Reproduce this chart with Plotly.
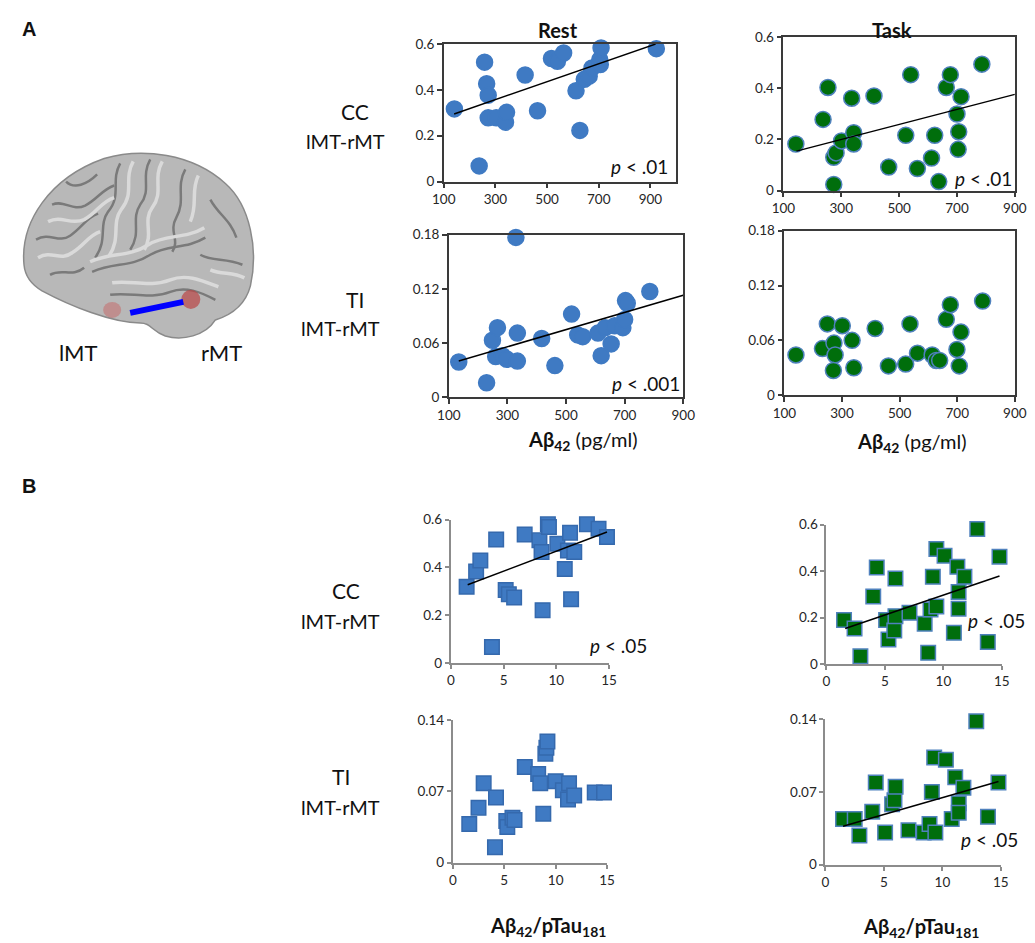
import plotly.graph_objects as go

W, H = 1035, 943

# ---------------- data ----------------
# Panel A: x = Abeta42 (pg/ml)
REST_CC_A_X = [141, 258, 266, 272, 272, 303, 339, 343, 237, 415, 463, 517, 540, 564,
               612, 627, 644, 663, 674, 704, 709, 706, 923]
REST_CC_A_Y = [0.317, 0.521, 0.427, 0.377, 0.278, 0.278, 0.259, 0.302, 0.068, 0.465,
               0.309, 0.537, 0.525, 0.561, 0.396, 0.223, 0.446, 0.460, 0.496, 0.532,
               0.583, 0.511, 0.580]
REST_CC_A_FIT_X = [140, 920]
REST_CC_A_FIT_Y = [0.295, 0.600]

TASK_CC_A_X = [143, 237, 254, 274, 282, 274, 301, 336, 343, 343, 413, 464, 523, 540,
               563, 612, 623, 637, 663, 677, 700, 714, 706, 704, 786]
TASK_CC_A_Y = [0.182, 0.278, 0.403, 0.130, 0.147, 0.024, 0.194, 0.361, 0.226, 0.182,
               0.370, 0.092, 0.216, 0.453, 0.086, 0.127, 0.216, 0.035, 0.403, 0.453,
               0.299, 0.367, 0.230, 0.161, 0.494]
TASK_CC_A_FIT_X = [145, 900]
TASK_CC_A_FIT_Y = [0.154, 0.376]

REST_TI_A_X = [134, 229, 249, 266, 260, 283, 298, 329, 334, 334, 417, 462, 519, 540,
               557, 609, 620, 634, 654, 666, 694, 700, 703, 709, 786]
REST_TI_A_Y = [0.039, 0.016, 0.063, 0.077, 0.045, 0.046, 0.042, 0.177, 0.071, 0.040,
               0.065, 0.035, 0.092, 0.069, 0.067, 0.071, 0.046, 0.077, 0.059, 0.079,
               0.077, 0.086, 0.107, 0.104, 0.117]
REST_TI_A_FIT_X = [134, 900]
REST_TI_A_FIT_Y = [0.040, 0.113]

TASK_TI_A_X = [140, 232, 249, 272, 276, 270, 301, 335, 341, 415, 461, 521, 536, 562,
               613, 627, 639, 662, 676, 699, 713, 707, 788]
TASK_TI_A_Y = [0.044, 0.051, 0.078, 0.057, 0.044, 0.027, 0.076, 0.060, 0.030, 0.073,
               0.032, 0.034, 0.078, 0.046, 0.044, 0.038, 0.038, 0.083, 0.099, 0.050,
               0.069, 0.032, 0.103]

# Panel B: x = Abeta42 / pTau181
REST_CC_B_X = [1.5, 2.4, 2.8, 3.9, 4.3, 5.2, 5.5, 6.0, 7.0, 8.4, 8.6, 8.7, 9.2, 9.3,
               10.1, 10.8, 11.1, 11.3, 11.4, 11.7, 12.9, 14.0, 14.8]
REST_CC_B_Y = [0.319, 0.383, 0.429, 0.067, 0.517, 0.305, 0.288, 0.274, 0.537, 0.513,
               0.464, 0.221, 0.580, 0.569, 0.499, 0.393, 0.471, 0.545, 0.267, 0.464,
               0.580, 0.562, 0.527]
REST_CC_B_FIT_X = [1.6, 14.8]
REST_CC_B_FIT_Y = [0.327, 0.548]

TASK_CC_B_X = [1.5, 2.4, 2.9, 4.0, 4.3, 5.1, 5.3, 5.8, 5.9, 5.9, 7.1, 8.4, 8.7, 8.9,
               9.1, 9.4, 9.4, 10.1, 10.9, 11.2, 11.3, 11.3, 11.8, 12.9, 13.8, 14.8]
TASK_CC_B_Y = [0.189, 0.153, 0.033, 0.290, 0.415, 0.189, 0.105, 0.144, 0.368, 0.206,
               0.221, 0.173, 0.048, 0.235, 0.375, 0.495, 0.247, 0.466, 0.134, 0.418,
               0.310, 0.238, 0.375, 0.581, 0.095, 0.462]
TASK_CC_B_FIT_X = [1.6, 14.8]
TASK_CC_B_FIT_Y = [0.153, 0.379]

REST_TI_B_X = [1.6, 2.5, 3.0, 4.1, 4.2, 5.2, 5.3, 5.8, 6.0, 7.0, 8.3, 8.5, 8.8, 9.0,
               9.1, 9.2, 10.0, 10.7, 11.2, 11.3, 11.8, 13.8, 14.7]
REST_TI_B_Y = [0.038, 0.054, 0.078, 0.015, 0.064, 0.041, 0.035, 0.044, 0.042, 0.094,
               0.087, 0.078, 0.048, 0.107, 0.113, 0.119, 0.080, 0.071, 0.062, 0.078,
               0.066, 0.069, 0.069]

TASK_TI_B_X = [1.5, 2.5, 2.9, 4.0, 4.3, 5.1, 5.7, 5.9, 6.0, 7.1, 8.4, 8.9, 9.1, 9.3,
               9.4, 10.3, 10.8, 11.1, 11.4, 11.4, 11.8, 12.9, 13.9, 14.8]
TASK_TI_B_Y = [0.044, 0.044, 0.028, 0.051, 0.079, 0.031, 0.058, 0.062, 0.075, 0.033,
               0.031, 0.039, 0.070, 0.103, 0.031, 0.101, 0.044, 0.084, 0.059, 0.050,
               0.074, 0.138, 0.046, 0.079]
TASK_TI_B_FIT_X = [1.5, 14.8]
TASK_TI_B_FIT_Y = [0.037, 0.080]

# tick values / labels
A_X_TICKS = [100, 300, 500, 700, 900]
A_CC_Y_TICKS = [0, 0.2, 0.4, 0.6]
A_TI_Y_TICKS = [0, 0.06, 0.12, 0.18]
B_X_TICKS = [0, 5, 10, 15]
B_CC_Y_TICKS = [0, 0.2, 0.4, 0.6]
B_TI_Y_TICKS = [0, 0.07, 0.14]
A_TI_Y_LABELS = ["0", "0.06", "0.12", "0.18"]
B_TI_Y_LABELS = ["0", "0.07", "0.14"]

# ---------------- styling ----------------
FONT = "Lato"
BLUE = "#3F7AC3"
BLUE_EDGE = "#3569AD"
GREEN = "#006E0C"
GREEN_EDGE = "#4F81BD"

# the photographed page shows the figure slightly offset and scaled;
# these convert a target position in the picture to paper coordinates
OFF_X, SCALE_X = 20.0, 0.975
OFF_Y, SCALE_Y = 17.0, 0.980


def px(x):
    return min(max(((x - OFF_X) / SCALE_X) / W, 0.0), 1.0)


def py(y):
    return min(max(1 - ((y - OFF_Y) / SCALE_Y) / H, 0.0), 1.0)


panels = [
    dict(x=REST_CC_A_X, y=REST_CC_A_Y, fx=REST_CC_A_FIT_X, fy=REST_CC_A_FIT_Y,
         box=(443, 45, 675, 182), xr=[100, 1000], yr=[0, 0.6], xt=A_X_TICKS, yt=A_CC_Y_TICKS,
         yl=None, style="A", c=BLUE, e=BLUE, sym="circle", p="<i>p</i> < .01", pp=(669, 167)),
    dict(x=TASK_CC_A_X, y=TASK_CC_A_Y, fx=TASK_CC_A_FIT_X, fy=TASK_CC_A_FIT_Y,
         box=(782, 38, 1013, 191), xr=[100, 900], yr=[0, 0.6], xt=A_X_TICKS, yt=A_CC_Y_TICKS,
         yl=None, style="A", c=GREEN, e=GREEN_EDGE, sym="circle", p="<i>p</i> < .01", pp=(1012, 179)),
    dict(x=REST_TI_A_X, y=REST_TI_A_Y, fx=REST_TI_A_FIT_X, fy=REST_TI_A_FIT_Y,
         box=(448, 235, 682, 397), xr=[100, 900], yr=[0, 0.18], xt=A_X_TICKS, yt=A_TI_Y_TICKS,
         yl=A_TI_Y_LABELS, style="A", c=BLUE, e=BLUE, sym="circle", p="<i>p</i> < .001", pp=(681, 383)),
    dict(x=TASK_TI_A_X, y=TASK_TI_A_Y, fx=None, fy=None,
         box=(783, 231, 1013, 395), xr=[100, 900], yr=[0, 0.18], xt=A_X_TICKS, yt=A_TI_Y_TICKS,
         yl=A_TI_Y_LABELS, style="A", c=GREEN, e=GREEN_EDGE, sym="circle", p=None, pp=None),
    dict(x=REST_CC_B_X, y=REST_CC_B_Y, fx=REST_CC_B_FIT_X, fy=REST_CC_B_FIT_Y,
         box=(450, 519, 608, 662), xr=[0, 15], yr=[0, 0.6], xt=B_X_TICKS, yt=B_CC_Y_TICKS,
         yl=None, style="B", c=BLUE, e=BLUE_EDGE, sym="square", p="<i>p</i> < .05", pp=(648, 645)),
    dict(x=TASK_CC_B_X, y=TASK_CC_B_Y, fx=TASK_CC_B_FIT_X, fy=TASK_CC_B_FIT_Y,
         box=(825, 524, 1000, 663), xr=[0, 15], yr=[0, 0.6], xt=B_X_TICKS, yt=B_CC_Y_TICKS,
         yl=None, style="B", c=GREEN, e=GREEN_EDGE, sym="square", p="<i>p</i> < .05", pp=(1025, 620)),
    dict(x=REST_TI_B_X, y=REST_TI_B_Y, fx=None, fy=None,
         box=(452, 719, 606, 861), xr=[0, 15], yr=[0, 0.14], xt=B_X_TICKS, yt=B_TI_Y_TICKS,
         yl=B_TI_Y_LABELS, style="B", c=BLUE, e=BLUE_EDGE, sym="square", p=None, pp=None),
    dict(x=TASK_TI_B_X, y=TASK_TI_B_Y, fx=TASK_TI_B_FIT_X, fy=TASK_TI_B_FIT_Y,
         box=(824, 718, 999, 863), xr=[0, 15], yr=[0, 0.14], xt=B_X_TICKS, yt=B_TI_Y_TICKS,
         yl=B_TI_Y_LABELS, style="B", c=GREEN, e=GREEN_EDGE, sym="square", p="<i>p</i> < .05", pp=(1018, 838)),
]

fig = go.Figure()
layout = {}
annotations = []

for i, pnl in enumerate(panels, start=1):
    xa = "x" if i == 1 else f"x{i}"
    ya = "y" if i == 1 else f"y{i}"
    xkey = "xaxis" if i == 1 else f"xaxis{i}"
    ykey = "yaxis" if i == 1 else f"yaxis{i}"
    l, t, r, b = pnl["box"]
    if pnl["style"] == "A":
        lc, lw, mirror, tl = "#3a3a3a", 1.5, True, 5
        size = 16
    else:
        lc, lw, mirror, tl = "#8c8c8c", 2, False, 4
        size = 14.5
    common = dict(showline=True, linecolor=lc, linewidth=lw, mirror=mirror,
                  ticks="outside", ticklen=tl, tickcolor=lc, tickwidth=1.5,
                  showgrid=False, zeroline=False, fixedrange=True,
                  tickfont=dict(family=FONT, size=13.5, color="#262626"))
    layout[xkey] = dict(domain=[px(l), px(r)], range=pnl["xr"], tickvals=pnl["xt"],
                        anchor=ya, **common)
    ydict = dict(domain=[py(b), py(t)], range=pnl["yr"], tickvals=pnl["yt"],
                 anchor=xa, **common)
    if pnl["yl"] is not None:
        ydict["ticktext"] = pnl["yl"]
    layout[ykey] = ydict

    fig.add_trace(go.Scatter(
        x=pnl["x"], y=pnl["y"], mode="markers", xaxis=xa, yaxis=ya,
        cliponaxis=False, showlegend=False,
        marker=dict(symbol=pnl["sym"], size=size, color=pnl["c"],
                    line=dict(color=pnl["e"], width=1.5))))
    if pnl["fx"] is not None:
        fig.add_trace(go.Scatter(
            x=pnl["fx"], y=pnl["fy"], mode="lines", xaxis=xa, yaxis=ya,
            cliponaxis=False, showlegend=False,
            line=dict(color="black", width=1.5)))
    if pnl["p"] is not None:
        annotations.append(dict(x=px(pnl["pp"][0]), y=py(pnl["pp"][1]), xref="paper", yref="paper",
                                text=pnl["p"], showarrow=False, xanchor="right", yanchor="middle",
                                font=dict(family=FONT, size=19, color="#111")))

# brain illustration axis (coordinates in picture pixels)
BR_L, BR_R, BR_T, BR_B = 22, 300, 140, 360
layout["xaxis9"] = dict(domain=[px(BR_L), px(BR_R)], range=[BR_L, BR_R], visible=False,
                        fixedrange=True, anchor="y9")
layout["yaxis9"] = dict(domain=[py(BR_B), py(BR_T)], range=[BR_B, BR_T], visible=False,
                        fixedrange=True, anchor="x9")
fig.add_trace(go.Scatter(x=[BR_L], y=[BR_T], xaxis="x9", yaxis="y9", mode="markers",
                         marker=dict(opacity=0), showlegend=False, hoverinfo="skip"))

shapes = []
brain = ("M 24,265 C 20,222 50,178 104,159 C 142,148 192,154 225,184 "
         "C 250,206 258,250 250,286 C 245,305 231,315 215,320 C 205,336 182,341 165,336 "
         "C 151,331 151,323 140,323 C 112,323 70,306 42,291 C 30,284 25,276 24,265 Z")
shapes.append(dict(type="path", path=brain, xref="x9", yref="y9",
                   fillcolor="#B8B8B8", line=dict(color="#8A8A8A", width=1.5), layer="above"))
sulci_dark = [
    "M 92,272 C 115,262 130,268 150,255 C 168,244 185,250 205,238",
    "M 150,160 C 140,178 152,190 140,205 C 130,220 142,232 130,250",
    "M 120,164 C 110,182 122,195 108,212 C 98,226 108,240 95,258",
    "M 185,170 C 175,188 186,200 176,218 C 168,232 180,240 172,252",
    "M 52,205 C 65,200 72,212 85,206 C 97,200 102,190 114,186",
    "M 36,240 C 50,232 58,244 70,236 C 82,228 86,218 98,214",
    "M 50,275 C 62,268 72,278 84,268",
    "M 210,200 C 218,215 230,220 236,238",
    "M 200,255 C 212,262 225,258 242,265",
    "M 110,295 C 130,292 150,300 170,292 C 185,286 200,292 215,300",
    "M 66,182 C 74,190 87,185 97,175",
]
for s in sulci_dark:
    shapes.append(dict(type="path", path=s, xref="x9", yref="y9",
                       line=dict(color="#7A7A7A", width=2.5), layer="above"))
sulci_light = [
    "M 90,262 C 112,252 128,258 148,245 C 166,234 184,240 204,228",
    "M 162,162 C 152,180 164,192 152,208 C 142,222 154,234 144,250",
    "M 133,162 C 123,180 135,193 121,210 C 111,224 121,238 109,256",
    "M 198,176 C 190,192 198,204 190,222",
    "M 48,222 C 62,215 70,226 84,220 C 97,213 101,202 114,198",
    "M 38,258 C 52,250 60,262 72,253 C 84,246 88,236 100,232",
    "M 112,283 C 130,280 150,288 170,280 C 186,274 200,280 218,287",
    "M 210,270 C 222,275 232,272 244,278",
]
for s in sulci_light:
    shapes.append(dict(type="path", path=s, xref="x9", yref="y9",
                       line=dict(color="#DADADA", width=3.5), layer="above"))
shapes.append(dict(type="circle", xref="x9", yref="y9", x0=103, y0=302, x1=121, y1=318,
                   fillcolor="rgba(200,90,90,0.45)", line=dict(width=0), layer="above"))
shapes.append(dict(type="circle", xref="x9", yref="y9", x0=181, y0=290, x1=200, y1=309,
                   fillcolor="rgba(185,70,70,0.7)", line=dict(width=0), layer="above"))
shapes.append(dict(type="line", xref="x9", yref="y9", x0=130, y0=313, x1=183, y1=302,
                   line=dict(color="#0000FF", width=6), layer="above"))


# text labels (positions are picture pixels)
def txt(x, y, s, size, bold=False, anchor="center", yanchor="middle", family=FONT):
    annotations.append(dict(x=px(x), y=py(y), xref="paper", yref="paper",
                            text=(f"<b>{s}</b>" if bold else s), showarrow=False,
                            xanchor=anchor, yanchor=yanchor,
                            font=dict(family=family, size=size, color="#111")))


txt(20, 17, "A", 20, bold=True, anchor="left", yanchor="top", family="Liberation Sans")
txt(20, 486, "B", 20, bold=True, anchor="left", family="Liberation Sans")
txt(557, 15, "Rest", 20, bold=True, yanchor="top")
txt(890, 15, "Task", 20, bold=True, yanchor="top")
txt(354, 112, "CC", 21)
txt(345, 142, "lMT-rMT", 20)
txt(354, 300, "TI", 21)
txt(340, 328, "lMT-rMT", 20)
txt(345, 590, "CC", 21)
txt(340, 620, "lMT-rMT", 20)
txt(340, 775, "TI", 21)
txt(340, 806, "lMT-rMT", 20)
txt(78, 352, "lMT", 22)
txt(221, 352, "rMT", 22)
txt(582, 440, "<b>Aβ<sub>42</sub></b> (pg/ml)", 20)
txt(910, 442, "<b>Aβ<sub>42</sub></b> (pg/ml)", 20)
txt(547, 925, "<b>Aβ<sub>42</sub>/pTau<sub>181</sub></b>", 20)
txt(919, 926, "<b>Aβ<sub>42</sub>/pTau<sub>181</sub></b>", 20)

fig.update_layout(
    width=W, height=H, margin=dict(l=0, r=0, t=0, b=0),
    paper_bgcolor="white", plot_bgcolor="rgba(0,0,0,0)",
    annotations=annotations, shapes=shapes, showlegend=False,
    font=dict(family=FONT),
    **layout,
)
fig.write_html("out.html")
